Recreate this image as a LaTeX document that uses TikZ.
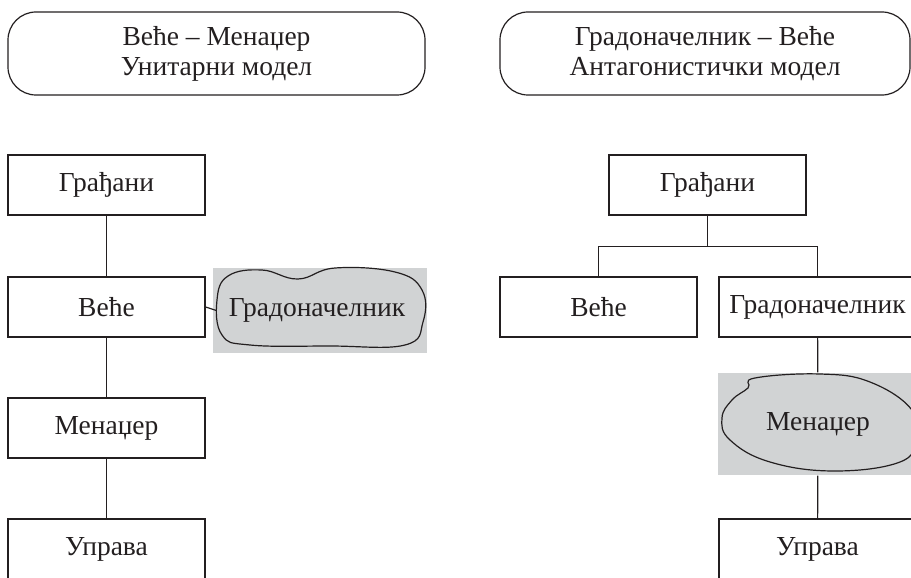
\documentclass[tikz,border=0pt]{standalone}
\usepackage{fontspec}
\setmainfont{Liberation Serif}
\usetikzlibrary{positioning}
\definecolor{blobgray}{RGB}{209,211,212}
\definecolor{inkdark}{RGB}{35,31,32}

\begin{document}
\begin{tikzpicture}[x=1pt, y=-1pt, line width=1.2pt, color=inkdark,
  font=\fontsize{27.5}{30}\selectfont,
  titlebox/.style={draw, rounded corners=28pt, minimum height=83pt, align=center},
  unitbox/.style={draw, minimum width=197pt, minimum height=60pt},
  blobarea/.style={fill=blobgray, inner sep=0pt}]
\useasboundingbox (0,0) rectangle (911,578);
\clip (0,0) rectangle (911,578);

% headings
\node[titlebox, minimum width=417pt] (titleL) at (216.5,53.5) {Веће – Менаџер\\Унитарни модел};
\node[titlebox, minimum width=410pt] (titleR) at (705,53.5) {Градоначелник – Веће\\Антагонистички модел};

% unitary model
\node[unitbox] (gradjL) at (106.5,185) {Грађани};
\node[unitbox] (veceL) at (106.5,307) {Веће};
\node[unitbox] (menL) at (106.5,428) {Менаџер};
\node[unitbox] (uprL) at (106.5,549) {Управа};
\node[blobarea, minimum width=214pt, minimum height=85pt] (gradonL) at (320,310.5) {};
\draw plot[smooth cycle, tension=0.7] coordinates {(217,300) (228,276) (262,270) (298,279) (335,268) (395,272) (422,290) (423,322) (405,345) (330,346) (250,345) (222,335)};
\node at ([xshift=-3pt]gradonL) {Градоначелник};

\draw (gradjL) -- (veceL);
\draw (veceL) -- (menL);
\draw (menL) -- (uprL);
\draw (veceL.east) -- ([xshift=4pt]gradonL.west);

% antagonistic model
\node[unitbox] (gradjR) at (707.5,185) {Грађани};
\node[unitbox] (veceR) at (598.5,307) {Веће};
\node[unitbox] (gradonR) at (817.5,307) {Градоначелник};
\node[blobarea, minimum width=200pt, minimum height=102pt] (menR) at (818,424) {};
\draw plot[smooth cycle, tension=0.7] coordinates {(755,378) (820,374) (870,382) (912,410) (915,440) (900,462) (835,471) (770,462) (730,440) (722,418) (732,400) (748,388)};
\node at (menR) {Менаџер};
\node[unitbox] (uprR) at (817.5,549) {Управа};

\draw (gradjR.south) -- ++(0,31) coordinate (forkR);
\draw (forkR) -| (veceR);
\draw (forkR) -| (gradonR);
\draw (gradonR) -- (menR);
\draw (menR) -- (uprR);
\end{tikzpicture}
\end{document}
